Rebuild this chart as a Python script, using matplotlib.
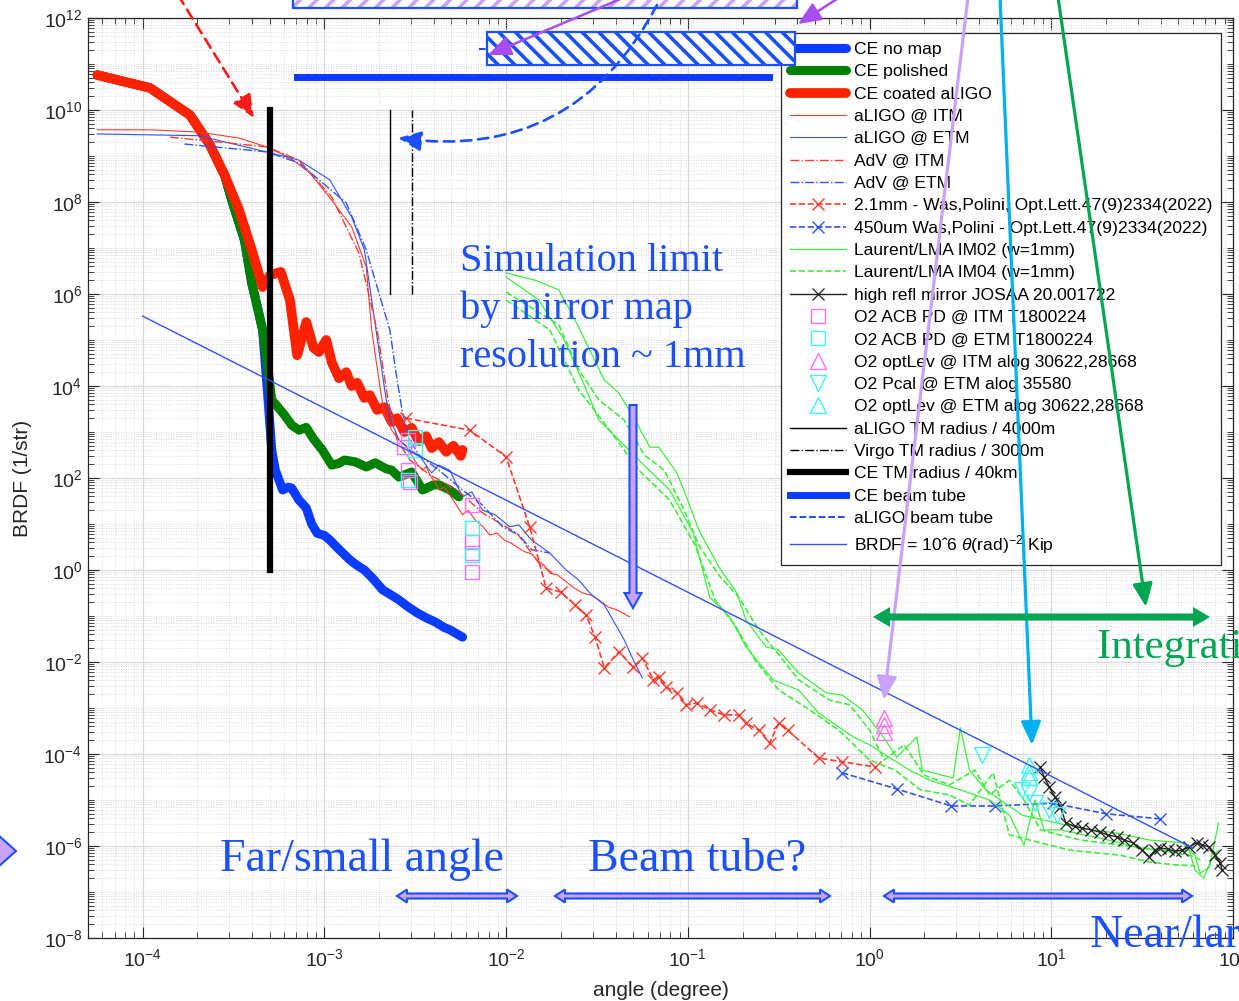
import numpy as np
import matplotlib
matplotlib.use("Agg")
import matplotlib.pyplot as plt
from matplotlib.patches import FancyArrowPatch, Polygon, Rectangle
from matplotlib.ticker import FixedLocator, FixedFormatter, NullFormatter

# ---------------- data: log10(angle [deg]) and log10(BRDF [1/str]) ----------------
ce_nomap_lx = [-4.25,-3.96,-3.74,-3.63,-3.55,-3.51,-3.44,-3.40,-3.34,-3.31,-3.29,-3.27,-3.23,-3.20,-3.18,
               -3.14,-3.10,-3.07,-3.04,-3.00,-2.97,-2.92,-2.86,-2.82,-2.78,-2.73,-2.68,-2.63,-2.59,-2.54,
               -2.49,-2.44,-2.39,-2.34,-2.31,-2.24]
ce_nomap_ly = [10.76,10.48,9.89,9.24,8.59,8.04,7.17,6.24,5.22,3.70,2.61,2.17,1.74,1.80,1.78,
               1.52,1.35,1.00,0.80,0.75,0.65,0.45,0.22,0.10,0.00,-0.20,-0.43,-0.55,-0.65,-0.80,
               -0.93,-1.04,-1.13,-1.25,-1.30,-1.46]

ce_polished_lx = [-4.25,-3.96,-3.74,-3.63,-3.55,-3.51,-3.44,-3.40,-3.34,-3.31,-3.29,-3.22,-3.18,-3.14,-3.10,
                  -3.06,-3.01,-2.96,-2.92,-2.89,-2.83,-2.77,-2.72,-2.66,-2.63,-2.59,-2.52,-2.46,-2.40,-2.37,
                  -2.31,-2.26]
ce_polished_ly = [10.76,10.48,9.89,9.24,8.59,8.04,7.17,6.24,5.22,4.35,3.70,3.37,3.15,3.04,3.10,
                  2.85,2.60,2.28,2.32,2.39,2.35,2.24,2.33,2.20,2.17,2.02,2.13,1.74,1.85,1.85,
                  1.74,1.59]

ce_coated_lx = [-4.25,-3.96,-3.74,-3.63,-3.55,-3.47,-3.40,-3.34,-3.30,-3.24,-3.19,-3.15,-3.12,-3.10,-3.06,
                -3.03,-2.99,-2.96,-2.92,-2.88,-2.85,-2.82,-2.78,-2.75,-2.71,-2.67,-2.63,-2.60,-2.56,-2.52,
                -2.48,-2.44,-2.41,-2.37,-2.33,-2.29,-2.25,-2.24]
ce_coated_ly = [10.76,10.48,9.89,9.24,8.59,7.83,6.96,6.15,6.41,6.48,5.87,4.67,5.10,5.39,4.83,
                4.74,5.00,4.52,4.17,4.30,4.00,4.07,3.74,3.80,3.48,3.54,3.22,3.30,3.00,3.09,
                2.80,2.91,2.65,2.78,2.57,2.70,2.48,2.61]

aligo_itm_lx = [-4.25,-3.96,-3.69,-3.47,-3.32,-3.19,-3.08,-2.96,-2.85,-2.77,-2.74,-2.70,-2.67,-2.63,-2.59,
                -2.55,-2.52,-2.49,-2.46,-2.44,-2.42,-2.39,-2.37,-2.34,-2.31,-2.28,-2.24,-2.21,-2.17,-2.13,
                -2.09,-2.05,-2.01,-1.97,-1.94,-1.90,-1.86,-1.83,-1.79,-1.76,-1.72,-1.68,-1.63,-1.58,-1.53,
                -1.49,-1.44,-1.39,-1.35,-1.32]
aligo_itm_ly = [9.57,9.57,9.52,9.39,9.20,8.96,8.63,8.04,7.46,6.59,5.22,4.13,3.37,3.04,2.83,
                2.70,2.50,2.30,2.17,2.25,2.07,1.90,1.74,1.80,1.63,1.45,1.20,1.30,1.09,0.95,
                0.76,0.80,0.65,0.58,0.50,0.40,0.35,0.22,0.10,-0.07,-0.10,-0.22,-0.38,-0.50,-0.55,
                -0.65,-0.80,-0.87,-0.95,-1.02]

aligo_etm_lx = [-4.25,-3.69,-3.32,-3.14,-2.97,-2.85,-2.78,-2.74,-2.70,-2.66,-2.63,-2.59,-2.53,-2.48,-2.41,
                -2.37,-2.31,-2.24,-2.19,-2.13,-2.06,-1.98,-1.93,-1.86,-1.76,-1.67,-1.60,-1.54,-1.46,-1.39,
                -1.35,-1.30,-1.25]
aligo_etm_ly = [9.48,9.44,9.09,8.91,8.48,7.67,6.96,5.87,4.78,3.70,3.20,2.83,2.61,2.50,2.11,
                2.28,2.17,1.59,1.70,1.30,1.20,0.94,0.98,0.65,0.37,0.00,-0.22,-0.50,-0.76,-1.24,
                -1.52,-1.96,-2.35]

adv_itm_lx = [-3.85,-3.32,-3.14,-2.96,-2.81,-2.71,-2.65,-2.60,-2.53,-2.42,-2.27,-2.13,-1.94,-1.82,-1.73]
adv_itm_ly = [9.41,9.20,8.91,8.11,6.89,5.22,3.70,2.83,2.39,2.07,1.74,1.24,0.80,0.15,-0.11]

adv_etm_lx = [-3.77,-3.32,-3.14,-2.88,-2.77,-2.70,-2.64,-2.60,-2.57,-2.53,-2.48,-2.37,-2.24,-2.13,-2.02,
              -1.93,-1.86,-1.76]
adv_etm_ly = [9.26,9.09,8.85,7.98,6.96,6.02,5.22,4.13,3.41,2.83,2.50,2.17,1.74,1.41,0.94,
              0.76,0.44,0.37]

was21_lx = [-2.55,-2.20,-2.00,-1.87,-1.78,-1.70,-1.62,-1.56,-1.51,-1.46,-1.38,-1.30,-1.25,-1.19,-1.16,
            -1.12,-1.06,-1.01,-0.95,-0.88,-0.80,-0.72,-0.68,-0.61,-0.55,-0.50,-0.45,-0.28,-0.15,0.03]
was21_ly = [3.30,3.04,2.46,0.93,-0.39,-0.48,-0.76,-0.98,-1.46,-2.13,-1.78,-2.11,-1.91,-2.39,-2.33,
            -2.54,-2.67,-2.93,-2.89,-3.04,-3.15,-3.15,-3.33,-3.48,-3.76,-3.33,-3.48,-4.09,-4.17,-4.28]

was450_lx = [-0.15,0.15,0.45,0.69,1.01,1.30,1.60]
was450_ly = [-4.41,-4.76,-5.13,-5.13,-5.07,-5.30,-5.41]

lma02a_lx = [-2.00,-1.84,-1.71,-1.62,-1.54,-1.46,-1.38,-1.29,-1.21,-1.16,-1.06,-0.99,-0.94,-0.83,-0.73,
             -0.68,-0.57,-0.50,-0.39,-0.24,-0.15,-0.04,0.06,0.15,0.26,0.29,0.46,0.50,0.55,0.64,
             0.84,0.95,1.16,1.36,1.54,1.72,1.79,1.82,1.87,1.92]
lma02a_ly = [6.46,6.30,6.09,5.43,4.78,4.13,3.85,3.26,2.67,2.67,2.11,1.41,0.87,0.07,-0.50,
             -1.09,-1.67,-1.74,-2.24,-2.67,-2.72,-3.04,-3.54,-4.07,-3.63,-4.35,-4.52,-3.43,-4.35,-4.78,
             -5.33,-5.43,-5.61,-5.72,-5.87,-5.93,-6.20,-6.59,-6.46,-5.50]
lma02b_lx = [-2.00,-1.82,-1.68,-1.57,-1.49,-1.38,-1.27,-1.10,-0.97,-0.88,-0.77,-0.68,-0.53,-0.39,-0.28,
             -0.09,0.00,0.13,0.22,0.33,0.50,0.66,0.77,0.85,0.91,0.96,1.05,1.27,1.49,1.65,
             1.76,1.79,1.84,1.88,1.92]
lma02b_ly = [6.37,5.87,5.00,4.02,3.26,2.83,2.39,1.74,0.80,-0.59,-1.02,-1.67,-2.39,-2.61,-3.11,
             -3.63,-3.80,-4.13,-4.35,-4.57,-4.78,-5.00,-5.33,-5.98,-5.00,-5.65,-5.65,-5.83,-6.04,-6.13,
             -6.09,-6.52,-6.70,-6.30,-6.09]
lma04a_lx = [-2.00,-1.71,-1.60,-1.49,-1.35,-1.24,-1.13,-1.02,-0.94,-0.83,-0.72,-0.61,-0.52,-0.39,-0.22,
             -0.11,0.00,0.08,0.19,0.30,0.44,0.58,0.66,0.77,0.85,0.94,1.16,1.38,1.60,1.76,1.82]
lma04a_ly = [6.04,5.33,4.35,3.70,3.26,2.50,2.17,1.30,0.54,-0.11,-0.59,-1.30,-1.74,-2.39,-2.83,
             -2.93,-3.48,-4.13,-3.80,-4.46,-4.67,-4.35,-4.89,-4.57,-5.00,-5.65,-5.87,-5.98,-6.09,-6.20,-6.30]
lma04b_lx = [-2.00,-1.76,-1.60,-1.43,-1.27,-1.10,-0.96,-0.85,-0.74,-0.63,-0.50,-0.33,-0.17,0.00,0.14,
             0.28,0.44,0.55,0.68,0.77,0.88,1.10,1.38,1.54,1.68,1.79]
lma04b_ly = [5.87,5.22,3.91,3.04,2.17,1.52,0.54,-0.65,-1.20,-1.96,-2.61,-3.04,-3.48,-4.13,-4.35,
             -4.78,-4.89,-5.11,-4.41,-5.76,-5.87,-6.09,-6.20,-6.35,-6.41,-6.43]

josaa_lx = [0.94,0.96,0.99,1.02,1.05,1.08,1.13,1.17,1.22,1.27,1.31,1.36,1.40,1.45,1.50,
            1.54,1.57,1.60,1.64,1.68,1.72,1.76,1.80,1.83,1.87,1.90,1.93,1.94]
josaa_ly = [-4.28,-4.50,-4.72,-4.93,-5.15,-5.50,-5.57,-5.61,-5.65,-5.70,-5.76,-5.80,-5.87,-5.93,-6.09,
            -6.24,-6.09,-6.04,-6.07,-6.11,-6.09,-6.02,-5.93,-5.98,-6.02,-6.20,-6.37,-6.52]

acb_itm_lx = [-2.54,-2.56,-2.54,-2.53,-2.19,-2.19,-2.19,-2.19]
acb_itm_ly = [2.83,2.67,2.17,1.91,1.41,0.61,0.37,-0.04]
acb_etm_lx = [-2.50,-2.50,-2.54,-2.19,-2.19]
acb_etm_ly = [2.89,2.61,1.96,0.91,0.33]
optlev_itm_lx = [0.08,0.08,0.08]
optlev_itm_ly = [-3.22,-3.37,-3.52]
pcal_etm_lx = [0.62,0.84,0.88,0.91,0.99,1.03]
pcal_etm_ly = [-4.02,-4.78,-4.85,-5.07,-5.22,-5.33]
optlev_etm_lx = [0.88,0.88,0.88]
optlev_etm_ly = [-4.24,-4.39,-4.50]

# reference lines (angle in degree, BRDF)
aligo_radius_x = [2.31e-3, 2.31e-3]; aligo_radius_y = [1e6, 1e10]
virgo_radius_x = [3.05e-3, 3.05e-3]; virgo_radius_y = [1e6, 1e10]
ce_radius_x = [5.0e-4, 5.0e-4];      ce_radius_y = [1e0, 1e10]
ce_tube_x = [7.1e-4, 0.28];          ce_tube_y = [5.2e10, 5.2e10]
aligo_tube_x = [7.1e-3, 0.36];       aligo_tube_y = [2.1e11, 2.1e11]
kip_x = [1e-4, 60.0];                kip_y = [3.3e5, 9.1e-7]

labels = ["CE no map", "CE polished", "CE coated aLIGO", "aLIGO @ ITM", "aLIGO @ ETM",
          "AdV @ ITM", "AdV @ ETM", "2.1mm - Was,Polini, Opt.Lett.47(9)2334(2022)",
          "450um Was,Polini - Opt.Lett.47(9)2334(2022)", "Laurent/LMA IM02 (w=1mm)",
          "Laurent/LMA IM04 (w=1mm)", "high refl mirror JOSAA 20.001722",
          "O2 ACB PD @ ITM T1800224", "O2 ACB PD @ ETM T1800224",
          "O2 optLev @ ITM alog 30622,28668", "O2 Pcal @ ETM alog 35580",
          "O2 optLev @ ETM alog 30622,28668", "aLIGO TM radius / 4000m",
          "Virgo TM radius / 3000m", "CE TM radius / 40km", "CE beam tube", "aLIGO beam tube",
          "BRDF = 10\u02c66 $\\theta$(rad)$^{-2}$ Kip"]

def P(v):
    return np.power(10.0, np.asarray(v, dtype=float))

# ---------------- style ----------------
plt.rcParams['font.family'] = ['Liberation Sans', 'DejaVu Sans']
plt.rcParams['mathtext.fontset'] = 'custom'
plt.rcParams['mathtext.rm'] = 'Liberation Sans'
plt.rcParams['mathtext.it'] = 'Liberation Sans:italic'
plt.rcParams['mathtext.bf'] = 'Liberation Sans:bold'
plt.rcParams['hatch.linewidth'] = 2.6

W, H = 1239, 1001
fig = plt.figure(figsize=(W / 100, H / 100), dpi=100)
ax = fig.add_axes([88 / W, 1 - 938 / H, 1145 / W, 920 / H])
ax.set_xscale('log'); ax.set_yscale('log')
ax.set_xlim(5e-5, 100); ax.set_ylim(1e-8, 1e12)

RED = '#ff2200'; BLUE = '#0a3cff'; GREEN = '#008000'
TRED = '#ff3b2f'; TBLUE = '#2f52ff'; LGREEN = '#3ef03e'
MAG = '#ff70ff'; CYAN = '#40f4f4'

h = []
h += ax.plot(P(ce_nomap_lx), P(ce_nomap_ly), color=BLUE, lw=6.5, solid_capstyle='round', solid_joinstyle='round')
h += ax.plot(P(ce_polished_lx), P(ce_polished_ly), color=GREEN, lw=6.5, solid_capstyle='round', solid_joinstyle='round')
h += ax.plot(P(ce_coated_lx), P(ce_coated_ly), color=RED, lw=7.0, solid_capstyle='round', solid_joinstyle='round')
h += ax.plot(P(aligo_itm_lx), P(aligo_itm_ly), color=TRED, lw=0.8)
h += ax.plot(P(aligo_etm_lx), P(aligo_etm_ly), color=TBLUE, lw=0.8)
h += ax.plot(P(adv_itm_lx), P(adv_itm_ly), color=TRED, lw=1.0, ls='-.')
h += ax.plot(P(adv_etm_lx), P(adv_etm_ly), color=TBLUE, lw=1.0, ls='-.')
h += ax.plot(P(was21_lx), P(was21_ly), color=TRED, lw=1.2, ls='--', marker='x', ms=9, mew=1.0)
h += ax.plot(P(was450_lx), P(was450_ly), color=TBLUE, lw=1.2, ls='--', marker='x', ms=9, mew=1.0)
h += ax.plot(P(lma02a_lx), P(lma02a_ly), color=LGREEN, lw=0.9)
ax.plot(P(lma02b_lx), P(lma02b_ly), color=LGREEN, lw=0.9)
h += ax.plot(P(lma04a_lx), P(lma04a_ly), color=LGREEN, lw=1.2, ls='--')
ax.plot(P(lma04b_lx), P(lma04b_ly), color=LGREEN, lw=1.2, ls='--')
h += ax.plot(P(josaa_lx), P(josaa_ly), color='#222222', lw=1.0, marker='x', ms=8, mew=0.9)
h += ax.plot(P(acb_itm_lx), P(acb_itm_ly), ls='none', marker='s', ms=10, mfc='none', mec=MAG, mew=1.0)
h += ax.plot(P(acb_etm_lx), P(acb_etm_ly), ls='none', marker='s', ms=10, mfc='none', mec=CYAN, mew=1.0)
h += ax.plot(P(optlev_itm_lx), P(optlev_itm_ly), ls='none', marker='^', ms=11, mfc='none', mec=MAG, mew=1.0)
h += ax.plot(P(pcal_etm_lx), P(pcal_etm_ly), ls='none', marker='v', ms=11, mfc='none', mec=CYAN, mew=1.0)
h += ax.plot(P(optlev_etm_lx), P(optlev_etm_ly), ls='none', marker='^', ms=11, mfc='none', mec=CYAN, mew=1.0)
h += ax.plot(aligo_radius_x, aligo_radius_y, color='black', lw=1.0)
h += ax.plot(virgo_radius_x, virgo_radius_y, color='black', lw=1.0, ls='-.')
h += ax.plot(ce_radius_x, ce_radius_y, color='black', lw=4.5)
h += ax.plot(ce_tube_x, ce_tube_y, color=BLUE, lw=5)
h += ax.plot(aligo_tube_x, aligo_tube_y, color=BLUE, lw=1.3, ls='--')
h += ax.plot(kip_x, kip_y, color=TBLUE, lw=1.0)

# ---------------- axes cosmetics ----------------
xmaj = [10.0 ** k for k in range(-4, 3)]
ax.xaxis.set_major_locator(FixedLocator(xmaj))
ax.xaxis.set_major_formatter(FixedFormatter([r'$\mathdefault{10^{%d}}$' % k for k in range(-4, 3)]))
ax.xaxis.set_minor_locator(FixedLocator([m * 10.0 ** k for k in range(-5, 2) for m in range(2, 10)]))
ax.xaxis.set_minor_formatter(NullFormatter())
ymaj = [10.0 ** k for k in range(-8, 13, 2)]
ax.yaxis.set_major_locator(FixedLocator(ymaj))
ax.yaxis.set_major_formatter(FixedFormatter([r'$\mathdefault{10^{%d}}$' % k for k in range(-8, 13, 2)]))
ax.yaxis.set_minor_locator(FixedLocator([m * 10.0 ** k for k in range(-8, 12) for m in range(1, 10)
                                         if not (m == 1 and k % 2 == 0)]))
ax.yaxis.set_minor_formatter(NullFormatter())
ax.tick_params(which='both', direction='in', top=True, right=True, colors='#262626')
ax.tick_params(which='major', length=8, width=0.8, labelsize=14)
ax.tick_params(which='minor', length=4, width=0.6)
ax.tick_params(axis='x', which='major', pad=7)
ax.tick_params(axis='y', which='major', pad=4)
ax.grid(which='major', color='#d9d9d9', lw=0.9, ls='-')
ax.grid(which='minor', color='#d0d0d0', lw=0.6, ls=(0, (1, 2)))
ax.set_axisbelow(True)
for s in ax.spines.values():
    s.set_color('#262626'); s.set_linewidth(0.9)
ax.set_xlabel('angle (degree)', fontsize=15, color='#262626', labelpad=8)
ax.set_ylabel('BRDF (1/str)', fontsize=15, color='#262626', labelpad=8)

leg = ax.legend(handles=h, labels=labels, loc='upper left', bbox_to_anchor=(781 / W, 1 - 33 / H),
                bbox_transform=fig.transFigure, fontsize=12.6, frameon=True, fancybox=False,
                framealpha=1, edgecolor='#262626', borderaxespad=0, handlelength=3.2,
                handletextpad=0.45, labelspacing=0.405, borderpad=0.5, numpoints=1)
leg.get_frame().set_linewidth(0.9)

# ---------------- slide overlay annotations (pixel coordinates) ----------------
ov = fig.add_axes([0, 0, 1, 1], zorder=10)
ov.set_xlim(0, W); ov.set_ylim(H, 0); ov.axis('off'); ov.patch.set_alpha(0)

ABLUE = '#1a50ff'; LAV = '#c9a2fa'; VIOL = '#a94cf2'; ACYAN = '#00b0f0'; AGREEN = '#00a651'

# hatched boxes
ov.add_patch(Rectangle((293, -20), 504, 28, facecolor='white', edgecolor=LAV, lw=0, hatch='//'))
ov.add_patch(Rectangle((293, -20), 504, 28, fill=False, edgecolor=ABLUE, lw=1.6))
ov.add_patch(Rectangle((487, 32), 308, 33, facecolor='white', edgecolor=ABLUE, lw=1.6, hatch='\\\\'))

def arrow(p0, p1, color, lw=2.0, ls='-', hl=14, hw=6, conn='arc3,rad=0'):
    a = FancyArrowPatch(p0, p1, arrowstyle='-|>,head_length=%g,head_width=%g' % (hl, hw),
                        mutation_scale=1, color=color, lw=lw, linestyle=ls, shrinkA=0, shrinkB=0,
                        connectionstyle=conn)
    ov.add_patch(a)

arrow((178, -5), (254, 118), '#ff1a1a', lw=1.9, ls=(0, (4, 2.5)))
arrow((657, 5), (398, 138), ABLUE, lw=1.9, ls=(0, (4, 2.5)), conn='arc3,rad=-0.35')
arrow((625, -3), (488, 55), VIOL, lw=1.8)
arrow((840, -3), (798, 24), VIOL, lw=1.8)
arrow((968, -3), (884, 700), LAV, lw=2.3)
arrow((1000, -3), (1032, 745), ACYAN, lw=2.3)
arrow((1058, -3), (1146, 607), AGREEN, lw=2.3)

def double_arrow(x0, x1, y, shaft, hw, hl, fc, ec, lw):
    pts = [(x0, y), (x0 + hl, y - hw / 2), (x0 + hl, y - shaft / 2), (x1 - hl, y - shaft / 2),
           (x1 - hl, y - hw / 2), (x1, y), (x1 - hl, y + hw / 2), (x1 - hl, y + shaft / 2),
           (x0 + hl, y + shaft / 2), (x0 + hl, y + hw / 2)]
    ov.add_patch(Polygon(pts, closed=True, facecolor=fc, edgecolor=ec, lw=lw, joinstyle='miter'))

double_arrow(873, 1210, 617, 7, 20, 17, AGREEN, 'none', 0)
for (a0, a1) in [(397, 517), (555, 830), (884, 1192)]:
    double_arrow(a0, a1, 896, 5, 13, 10, LAV, ABLUE, 1.5)

# down arrow
xc, y0, y1 = 633, 405, 608
sw, hw, hl = 7, 17, 15
ov.add_patch(Polygon([(xc - sw / 2, y0), (xc + sw / 2, y0), (xc + sw / 2, y1 - hl), (xc + hw / 2, y1 - hl),
                      (xc, y1), (xc - hw / 2, y1 - hl), (xc - sw / 2, y1 - hl)], closed=True,
                     facecolor=LAV, edgecolor=ABLUE, lw=1.5))
# left diamond fragment
ov.add_patch(Polygon([(-12, 826), (16, 851), (-12, 876)], closed=True, facecolor=LAV, edgecolor=ABLUE, lw=1.5))

SERIF = ['Liberation Serif', 'DejaVu Serif']
ov.text(460, 271, 'Simulation limit', fontsize=29, family=SERIF, color=ABLUE, va='baseline')
ov.text(460, 319, 'by mirror map', fontsize=29, family=SERIF, color=ABLUE, va='baseline')
ov.text(460, 367, 'resolution ~ 1mm', fontsize=29, family=SERIF, color=ABLUE, va='baseline')
ov.text(220, 871, 'Far/small angle', fontsize=33, family=SERIF, color=ABLUE, va='baseline')
ov.text(588, 871, 'Beam tube?', fontsize=33, family=SERIF, color=ABLUE, va='baseline')
ov.text(1090, 947, 'Near/large angle', fontsize=33, family=SERIF, color=ABLUE, va='baseline')
ov.text(1097, 658, 'Integrating sphere', fontsize=31, family=SERIF, color=AGREEN, va='baseline')

fig.savefig('out.png', dpi=100)
